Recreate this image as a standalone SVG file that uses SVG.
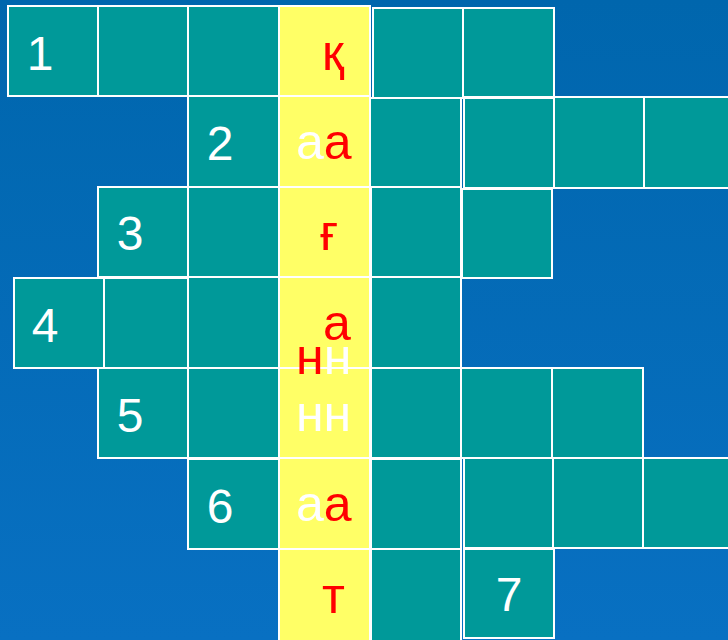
<svg xmlns="http://www.w3.org/2000/svg" width="728" height="640" viewBox="0 0 728 640">
<defs>
<linearGradient id="bg" x1="0" y1="0" x2="0" y2="1">
<stop offset="0" stop-color="#0066AD"/>
<stop offset="1" stop-color="#0870C2"/>
</linearGradient>
</defs>
<style>
.c{fill:#009999;stroke:#FFFFFF;stroke-width:2}
.y{fill:#FFFF66;stroke:#FFFFFF;stroke-width:2}
.n{font-family:"Liberation Sans",Arial,sans-serif;font-size:48px;fill:#FFFFFF;text-anchor:middle}
.l{font-family:"Liberation Sans",Arial,sans-serif;font-size:50px;fill:#FF0000}
.w{fill:#FFFFFF}
.r{fill:#FF0000}
</style>
<rect x="0" y="0" width="728" height="640" fill="url(#bg)"/>
<g id="row1">
<rect class="c" x="8" y="6" width="90" height="90"/>
<rect class="c" x="98" y="6" width="90" height="90"/>
<rect class="c" x="188" y="6" width="91" height="90"/>
<rect class="c" x="373" y="8" width="90" height="90"/>
<rect class="c" x="463" y="8" width="91" height="89"/>
<text class="n" x="40" y="70">1</text>
</g>
<g id="row2">
<rect class="c" x="188" y="96" width="91" height="91"/>
<rect class="c" x="370" y="98" width="91" height="89"/>
<rect class="c" x="464" y="98" width="90" height="90"/>
<rect class="c" x="554" y="97" width="90" height="91"/>
<rect class="c" x="644" y="97" width="96" height="91"/>
<text class="n" x="220" y="160">2</text>
</g>
<g id="row3">
<rect class="c" x="98" y="187" width="90" height="90"/>
<rect class="c" x="188" y="187" width="91" height="90"/>
<rect class="c" x="371" y="187" width="90" height="90"/>
<rect class="c" x="462" y="189" width="90" height="89"/>
<text class="n" x="130" y="250">3</text>
</g>
<g id="row4">
<rect class="c" x="14" y="278" width="90" height="90"/>
<rect class="c" x="104" y="278" width="84" height="90"/>
<rect class="c" x="188" y="277" width="91" height="91"/>
<rect class="c" x="371" y="277" width="90" height="91"/>
<text class="n" x="45" y="342">4</text>
</g>
<g id="row5">
<rect class="c" x="98" y="368" width="90" height="90"/>
<rect class="c" x="188" y="368" width="91" height="90"/>
<rect class="c" x="371" y="368" width="90" height="90"/>
<rect class="c" x="461" y="368" width="91" height="90"/>
<rect class="c" x="552" y="368" width="91" height="90"/>
<text class="n" x="130" y="432">5</text>
</g>
<g id="row6">
<rect class="c" x="188" y="459" width="91" height="90"/>
<rect class="c" x="371" y="459" width="90" height="90"/>
<rect class="c" x="464" y="458" width="89" height="90"/>
<rect class="c" x="553" y="458" width="90" height="90"/>
<rect class="c" x="643" y="458" width="97" height="90"/>
<text class="n" x="220" y="523">6</text>
</g>
<g id="row7">
<rect class="c" x="371" y="549" width="90" height="93"/>
<rect class="c" x="464" y="549" width="90" height="89"/>
<text class="n" x="509" y="611">7</text>
</g>
<g id="answer">
<rect class="y" x="279" y="6" width="91" height="90"/>
<rect class="y" x="279" y="96" width="91" height="91"/>
<rect class="y" x="279" y="187" width="91" height="90"/>
<rect class="y" x="279" y="277" width="91" height="91"/>
<rect class="y" x="279" y="368" width="91" height="90"/>
<rect class="y" x="279" y="458" width="91" height="91"/>
<rect class="y" x="279" y="549" width="91" height="93"/>
<text class="l" x="322" y="70">қ</text>
<text class="l" x="296" y="159"><tspan class="w">а</tspan><tspan class="r">а</tspan></text>
<text class="l" x="320" y="250">ғ</text>
<text class="l" x="323" y="340">а</text>
<text class="l" x="296" y="374"><tspan class="r">н</tspan><tspan class="w">н</tspan></text>
<text class="l" x="296" y="431"><tspan class="w">нн</tspan></text>
<text class="l" x="296" y="521"><tspan class="w">а</tspan><tspan class="r">а</tspan></text>
<text class="l" x="322" y="613">т</text>
</g>
</svg>
